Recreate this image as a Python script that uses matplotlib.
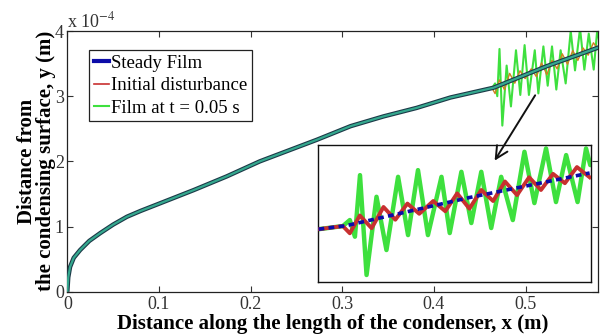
import numpy as np
import matplotlib
matplotlib.use('Agg')
import matplotlib.pyplot as plt
import matplotlib.patheffects as pe
from matplotlib.lines import Line2D

plt.rcParams['font.family'] = ['Liberation Serif', 'DejaVu Serif']
plt.rcParams['mathtext.fontset'] = 'stix'

# Filmdicke in Einheiten von 1e-4 m
steady_x = [0.0, 0.001, 0.003, 0.007, 0.014, 0.024, 0.036, 0.05, 0.065, 0.08,
            0.1, 0.138, 0.174, 0.21, 0.272, 0.309, 0.345, 0.381, 0.418,
            0.465, 0.523, 0.58]
steady_y = [0.0, 0.22, 0.38, 0.52, 0.64, 0.78, 0.90, 1.03, 1.15, 1.24,
            1.35, 1.56, 1.77, 2.0, 2.33, 2.54, 2.69, 2.82, 2.98,
            3.13, 3.46, 3.75]

dist_x = steady_x[:19] + [0.4634, 0.4667, 0.4714, 0.4770, 0.4826,
          0.4882, 0.4939, 0.4995, 0.5061, 0.5118, 0.5174, 0.5232, 0.5288,
          0.5344, 0.5400, 0.5457, 0.5514, 0.5570, 0.5627, 0.5683, 0.5740, 0.5800]
dist_y = steady_y[:19] + [3.125, 3.04, 3.25, 3.10, 3.35,
          3.20, 3.39, 3.27, 3.42, 3.30, 3.51, 3.33, 3.55,
          3.42, 3.65, 3.49, 3.70, 3.55, 3.74, 3.63, 3.82, 3.70]

film_x = steady_x[:19] + [0.4634, 0.4667, 0.4691, 0.4715, 0.4746,
          0.4793, 0.4840, 0.4895, 0.4942, 0.4989, 0.5036, 0.5100, 0.5139,
          0.5194, 0.5241, 0.5288, 0.5335, 0.5382, 0.5437, 0.5492, 0.5539,
          0.5594, 0.5641, 0.5689, 0.5743, 0.5783, 0.5803]
film_y = steady_y[:19] + [3.125, 3.196, 3.0, 3.725, 2.549,
          3.47, 2.843, 3.705, 3.019, 3.784, 3.019, 3.705, 3.043,
          3.764, 3.161, 3.764, 3.102, 3.705, 3.196, 4.0, 3.396,
          4.039, 3.408, 3.961, 3.408, 4.039, 3.843]

x_ticks = [0, 0.1, 0.2, 0.3, 0.4, 0.5]
x_ticklabels = ['0', '0.1', '0.2', '0.3', '0.4', '0.5']
y_ticks = [0, 1, 2, 3, 4]

c_blue = '#0c0ca8'
c_red = '#c83030'
c_green = '#3ee03e'

fig = plt.figure(figsize=(6, 3.34), dpi=100)
ax = fig.add_axes([0.1122, 0.1266, 0.8845, 0.7805])

ax.plot(film_x, film_y, color=c_green, lw=1.5, zorder=2)
ax.plot(dist_x, dist_y, color='#d08020', lw=1.0, zorder=3)
ax.plot(steady_x, steady_y, color='#34a88e', lw=1.6, zorder=4,
        solid_capstyle='butt',
        path_effects=[pe.Stroke(linewidth=3.2, foreground='#1c3a48'), pe.Normal()])

ax.set_xlim(0, 0.579)
ax.set_ylim(0, 4)
ax.set_xticks(x_ticks)
ax.set_xticklabels(x_ticklabels)
ax.set_yticks(y_ticks)
ax.tick_params(direction='in', length=4, top=True, right=True, labelsize=13,
               colors='#333333', labelcolor='#333333')
ax.tick_params(axis='x', pad=3)
ax.tick_params(axis='y', pad=2.5)
for s in ax.spines.values():
    s.set_linewidth(0.9)
    s.set_color('#222222')

ax.text(0.0, 1.0, 'x 10$^{-4}$', transform=ax.transAxes, fontsize=13,
        ha='left', va='bottom', color='#333333')

ax.set_xlabel('Distance along the length of the condenser, x (m)',
              fontsize=15, fontweight='bold', labelpad=1)
ax.set_ylabel('Distance from\nthe condensing surface, y (m)',
              fontsize=15, fontweight='bold', labelpad=-1, linespacing=0.95)

handles = [Line2D([], [], color=c_blue, lw=3),
           Line2D([], [], color=c_red, lw=1.2),
           Line2D([], [], color=c_green, lw=1.5)]
leg = ax.legend(handles, ['Steady Film', 'Initial disturbance', 'Film at t = 0.05 s'],
                loc='upper left', bbox_to_anchor=(0.041, 0.927), fontsize=13.5,
                handlelength=0.8, handletextpad=0.1, borderpad=0.25,
                labelspacing=0.28, borderaxespad=0, fancybox=False, framealpha=1)
leg.get_frame().set_edgecolor('#222222')
leg.get_frame().set_linewidth(0.9)

# Vergroesserung
ins = fig.add_axes([0.5305, 0.1566, 0.454, 0.4093])
ins.plot(film_x, film_y, color=c_green, lw=3.2, zorder=2,
         solid_joinstyle='round', solid_capstyle='round')
ins.plot(dist_x, dist_y, color=c_red, lw=2.8, zorder=3, solid_joinstyle='round')
ins.plot(steady_x, steady_y, color=c_blue, lw=2.6, zorder=4, dashes=(1.6, 1.2))
ins.set_xlim(0.4518, 0.5805)
ins.set_ylim(2.47, 4.08)
ins.set_xticks([])
ins.set_yticks([])
for s in ins.spines.values():
    s.set_linewidth(1.0)
    s.set_color('#111111')

ins.annotate('', xy=(0.4646, 1.975), xycoords=ax.transData,
             xytext=(0.512, 3.05), textcoords=ax.transData,
             annotation_clip=False,
             arrowprops=dict(arrowstyle='->', color='#111111', lw=1.4,
                             mutation_scale=22))

fig.savefig('out.png', dpi=100)
